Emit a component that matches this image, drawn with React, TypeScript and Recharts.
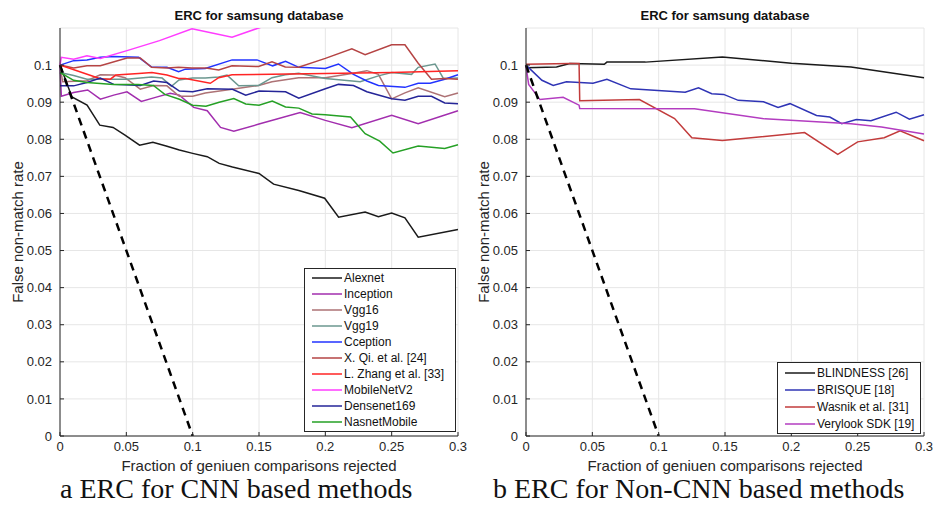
import { CartesianGrid, Label, Line, LineChart, XAxis, YAxis } from "recharts";

type Pt = [number, number];

const xTicks = [0, 0.05, 0.1, 0.15, 0.2, 0.25, 0.3];
const yTicks = [0, 0.01, 0.02, 0.03, 0.04, 0.05, 0.06, 0.07, 0.08, 0.09, 0.1];

// reference line: rejecting genuine comparisons removes errors one for one
const idealLine: Pt[] = [[0, 0.1], [0.1, 0]];

// CNN based methods
const alexnet: Pt[] = [[0, 0.1], [0.009, 0.0914], [0.0204, 0.0892], [0.03, 0.0838], [0.04, 0.0832], [0.049, 0.0811], [0.06, 0.0784], [0.07, 0.0792], [0.08, 0.0782], [0.09, 0.0771], [0.1, 0.0762], [0.111, 0.0753], [0.12, 0.0735], [0.13, 0.0725], [0.15, 0.0708], [0.161, 0.0679], [0.18, 0.0662], [0.1995, 0.0641], [0.21, 0.059], [0.23, 0.0604], [0.24, 0.0591], [0.25, 0.0601], [0.26, 0.0588], [0.27, 0.0536], [0.3, 0.0557]];
const inception: Pt[] = [[0, 0.1], [0.001, 0.0916], [0.0103, 0.0926], [0.0209, 0.0933], [0.0304, 0.0908], [0.0405, 0.0919], [0.0505, 0.0928], [0.0613, 0.0902], [0.072, 0.0913], [0.083, 0.0924], [0.09, 0.0919], [0.1008, 0.0886], [0.111, 0.0877], [0.121, 0.0832], [0.131, 0.0822], [0.15, 0.0841], [0.181, 0.0872], [0.2, 0.0851], [0.22, 0.0831], [0.25, 0.0865], [0.27, 0.0842], [0.3, 0.0877]];
const vgg16: Pt[] = [[0, 0.1], [0.002, 0.0955], [0.0203, 0.0958], [0.0304, 0.0974], [0.0405, 0.0973], [0.049, 0.0966], [0.0605, 0.0935], [0.0706, 0.0945], [0.0806, 0.0944], [0.0899, 0.0916], [0.1, 0.0916], [0.1095, 0.0925], [0.1297, 0.0935], [0.1497, 0.0945], [0.1598, 0.0955], [0.1799, 0.0966], [0.2, 0.0966], [0.221, 0.0978], [0.2313, 0.0985], [0.24, 0.0975], [0.25, 0.0909], [0.26, 0.0925], [0.27, 0.0939], [0.29, 0.0915], [0.3, 0.0925]];
const vgg19: Pt[] = [[0, 0.098], [0.0103, 0.0972], [0.0203, 0.0962], [0.05, 0.0962], [0.069, 0.0968], [0.077, 0.0965], [0.084, 0.0943], [0.0897, 0.096], [0.1, 0.0965], [0.1095, 0.0965], [0.1196, 0.0968], [0.1259, 0.0973], [0.1347, 0.0944], [0.1497, 0.0945], [0.1598, 0.0966], [0.1698, 0.0974], [0.1799, 0.0978], [0.2, 0.0964], [0.2263, 0.0955], [0.24, 0.0971], [0.25, 0.098], [0.265, 0.0975], [0.27, 0.0994], [0.2827, 0.1003], [0.289, 0.0964], [0.3, 0.0965]];
const cception: Pt[] = [[0, 0.1], [0.0103, 0.1012], [0.0203, 0.1014], [0.0304, 0.1021], [0.0405, 0.1023], [0.0593, 0.1021], [0.0693, 0.0994], [0.0806, 0.0994], [0.0894, 0.0982], [0.0945, 0.0989], [0.1095, 0.0991], [0.1297, 0.1014], [0.1485, 0.1014], [0.1603, 0.0998], [0.17, 0.101], [0.18, 0.0994], [0.2, 0.0991], [0.2099, 0.1003], [0.2212, 0.0975], [0.2313, 0.0957], [0.24, 0.0945], [0.26, 0.094], [0.27, 0.0951], [0.279, 0.0951], [0.29, 0.0962], [0.3, 0.0974]];
const xQi: Pt[] = [[0, 0.1], [0.0103, 0.0992], [0.0203, 0.0998], [0.0304, 0.0998], [0.0505, 0.1019], [0.0605, 0.1019], [0.069, 0.0994], [0.0806, 0.0992], [0.0894, 0.0994], [0.0994, 0.0992], [0.11, 0.0992], [0.1196, 0.0987], [0.1297, 0.0998], [0.1497, 0.0996], [0.1598, 0.1009], [0.1698, 0.0995], [0.1799, 0.0994], [0.2, 0.1018], [0.22, 0.1044], [0.23, 0.1028], [0.25, 0.1055], [0.26, 0.1055], [0.27, 0.1005], [0.28, 0.0962], [0.29, 0.0964], [0.3, 0.0962]];
const lZhang: Pt[] = [[0, 0.1], [0.0116, 0.0986], [0.0304, 0.0963], [0.038, 0.0962], [0.042, 0.0973], [0.0593, 0.0977], [0.0693, 0.098], [0.0806, 0.0973], [0.0894, 0.0964], [0.0945, 0.0964], [0.1133, 0.0951], [0.1196, 0.0966], [0.1297, 0.0974], [0.2, 0.0977], [0.25, 0.098], [0.3, 0.0985]];
const mobileNet: Pt[] = [[0, 0.1], [0.001, 0.1021], [0.0103, 0.1016], [0.0203, 0.1025], [0.0304, 0.1018], [0.0505, 0.1039], [0.075, 0.1066], [0.0995, 0.1098], [0.1297, 0.1075], [0.1497, 0.11], [0.16, 0.1112]];
const densenet: Pt[] = [[0, 0.0944], [0.0103, 0.0944], [0.0203, 0.0953], [0.0304, 0.0965], [0.0405, 0.0948], [0.0605, 0.0945], [0.0706, 0.0957], [0.0806, 0.0953], [0.09, 0.093], [0.1, 0.0928], [0.111, 0.0936], [0.13, 0.0935], [0.14, 0.0919], [0.15, 0.093], [0.17, 0.0928], [0.18, 0.0911], [0.2, 0.0936], [0.2099, 0.0948], [0.2212, 0.0945], [0.2313, 0.0928], [0.25, 0.0909], [0.26, 0.0905], [0.27, 0.0916], [0.28, 0.0916], [0.29, 0.0898], [0.3, 0.0896]];
const nasnet: Pt[] = [[0, 0.098], [0.0103, 0.0959], [0.0203, 0.0953], [0.0404, 0.0948], [0.059, 0.0948], [0.0704, 0.0945], [0.079, 0.0921], [0.09, 0.0908], [0.1, 0.0892], [0.11, 0.0889], [0.12, 0.09], [0.131, 0.091], [0.14, 0.0895], [0.15, 0.0892], [0.16, 0.0903], [0.17, 0.0887], [0.18, 0.0884], [0.19, 0.0868], [0.2, 0.0866], [0.219, 0.086], [0.23, 0.0815], [0.241, 0.0795], [0.251, 0.0763], [0.27, 0.0782], [0.29, 0.0775], [0.3, 0.0785]];

// non-CNN methods
const blindness: Pt[] = [[0, 0.0993], [0.023, 0.0995], [0.033, 0.1004], [0.059, 0.1002], [0.061, 0.1008], [0.09, 0.1008], [0.148, 0.1022], [0.2, 0.1005], [0.245, 0.0995], [0.3, 0.0966]];
const brisque: Pt[] = [[0, 0.1], [0.012, 0.0959], [0.0205, 0.0945], [0.0305, 0.0955], [0.0505, 0.0951], [0.061, 0.0962], [0.079, 0.0936], [0.12, 0.0927], [0.13, 0.0939], [0.14, 0.0923], [0.149, 0.0921], [0.16, 0.0905], [0.179, 0.0901], [0.19, 0.0886], [0.199, 0.0896], [0.219, 0.0864], [0.229, 0.086], [0.238, 0.0842], [0.249, 0.0853], [0.26, 0.085], [0.279, 0.0873], [0.289, 0.0854], [0.3, 0.0866]];
const wasnik: Pt[] = [[0, 0.1002], [0.033, 0.1004], [0.04, 0.1004], [0.0405, 0.0904], [0.0855, 0.0907], [0.112, 0.0856], [0.125, 0.0804], [0.148, 0.0797], [0.21, 0.0818], [0.235, 0.0759], [0.25, 0.0793], [0.27, 0.0804], [0.282, 0.0823], [0.3, 0.0796]];
const verylook: Pt[] = [[0, 0.0997], [0.002, 0.0948], [0.0105, 0.0907], [0.028, 0.0913], [0.04, 0.0892], [0.0405, 0.0883], [0.127, 0.0882], [0.18, 0.0855], [0.245, 0.0842], [0.268, 0.0833], [0.3, 0.0814]];

type Series = { name: string; color: string; points: Pt[] };

const cnnSeries: Series[] = [
  { name: "Alexnet", color: "#1a1a1a", points: alexnet },
  { name: "Inception", color: "#a22eae", points: inception },
  { name: "Vgg16", color: "#ad7275", points: vgg16 },
  { name: "Vgg19", color: "#6b978f", points: vgg19 },
  { name: "Cception", color: "#2233ff", points: cception },
  { name: "X. Qi. et al. [24]", color: "#b54444", points: xQi },
  { name: "L. Zhang et al. [33]", color: "#ff2424", points: lZhang },
  { name: "MobileNetV2", color: "#ff3cff", points: mobileNet },
  { name: "Densenet169", color: "#252598", points: densenet },
  { name: "NasnetMobile", color: "#25a025", points: nasnet },
];

const otherSeries: Series[] = [
  { name: "BLINDNESS [26]", color: "#1a1a1a", points: blindness },
  { name: "BRISQUE [18]", color: "#2f34b5", points: brisque },
  { name: "Wasnik et al. [31]", color: "#c23b3b", points: wasnik },
  { name: "Verylook SDK [19]", color: "#b33cc0", points: verylook },
];

const toRows = (pts: Pt[]) => pts.map(([x, y]) => ({ x, y }));

const sans = "'Liberation Sans', Arial, Helvetica, sans-serif";
const serif = "'Liberation Serif', 'Times New Roman', serif";
const axisColor = "#262626";
const tickStyle = { fontSize: 13, fill: axisColor, fontFamily: sans };
const blank = () => "";

type LegendBox = { left: number; top: number; width: number; rowHeight: number };

function LegendList({ series, box }: { series: Series[]; box: LegendBox }) {
  return (
    <div
      style={{
        position: "absolute",
        left: box.left,
        top: box.top,
        width: box.width,
        boxSizing: "border-box",
        border: `1px solid ${axisColor}`,
        background: "#fff",
        padding: "1px 0 1px 0",
        fontFamily: sans,
        fontSize: 12,
        color: "#111",
      }}
    >
      {series.map((s) => (
        <div key={s.name} style={{ display: "flex", alignItems: "center", height: box.rowHeight, whiteSpace: "nowrap" }}>
          <svg width={30} height={4} style={{ margin: "0 2px 0 7px", display: "block" }}>
            <line x1={0} y1={2} x2={30} y2={2} stroke={s.color} strokeWidth={1.5} />
          </svg>
          <span>{s.name}</span>
        </div>
      ))}
    </div>
  );
}

function ErcPanel({ left, series, box }: { left: number; series: Series[]; box: LegendBox }) {
  return (
    <div style={{ position: "absolute", left, top: 0, width: 470, height: 480 }}>
      <div
        style={{
          position: "absolute",
          left: 60,
          width: 398,
          top: 8,
          textAlign: "center",
          fontFamily: sans,
          fontWeight: "bold",
          fontSize: 13,
          color: "#111",
        }}
      >
        ERC for samsung database
      </div>
      <LineChart width={470} height={480} margin={{ top: 28, right: 12, bottom: 4, left: 0 }}>
        <CartesianGrid stroke="#e6e6e6" />
        <XAxis
          type="number"
          dataKey="x"
          domain={[0, 0.3]}
          ticks={xTicks}
          height={40}
          stroke={axisColor}
          tickSize={-4}
          tickMargin={10}
          tick={tickStyle}
        >
          <Label
            value="Fraction of geniuen comparisons rejected"
            position="insideBottom"
            offset={5}
            style={{ fontSize: 15, fill: axisColor, fontFamily: sans }}
          />
        </XAxis>
        <XAxis xAxisId="top" orientation="top" type="number" domain={[0, 0.3]} ticks={xTicks} height={0} stroke={axisColor} tickSize={-4} tickFormatter={blank} />
        <YAxis
          type="number"
          domain={[0, 0.11]}
          ticks={yTicks}
          allowDataOverflow
          width={60}
          stroke={axisColor}
          tickSize={-4}
          tickMargin={12}
          tick={tickStyle}
        >
          <Label
            value="False non-match rate"
            angle={-90}
            position="insideLeft"
            offset={18}
            style={{ fontSize: 15, fill: axisColor, fontFamily: sans, textAnchor: "middle" }}
          />
        </YAxis>
        <YAxis yAxisId="right" orientation="right" type="number" domain={[0, 0.11]} ticks={yTicks} width={0} stroke={axisColor} tickSize={-4} tickFormatter={blank} />
        {series.map((s) => (
          <Line
            key={s.name}
            data={toRows(s.points)}
            dataKey="y"
            name={s.name}
            type="linear"
            stroke={s.color}
            strokeWidth={1.5}
            dot={false}
            isAnimationActive={false}
          />
        ))}
        <Line
          data={toRows(idealLine)}
          dataKey="y"
          name="ideal"
          type="linear"
          stroke="#000"
          strokeWidth={2.5}
          strokeDasharray="8 6"
          dot={false}
          isAnimationActive={false}
        />
      </LineChart>
      <LegendList series={series} box={box} />
    </div>
  );
}

const captionStyle = {
  position: "absolute" as const,
  top: 479,
  fontFamily: serif,
  fontSize: 28,
  lineHeight: "20px",
  color: "#111",
  whiteSpace: "nowrap" as const,
};

export default function App() {
  return (
    <div style={{ position: "absolute", left: 0, top: 0, width: 936, height: 521, background: "#fff", overflow: "hidden" }}>
      <ErcPanel left={0} series={cnnSeries} box={{ left: 304, top: 268, width: 152, rowHeight: 16 }} />
      <ErcPanel left={466} series={otherSeries} box={{ left: 311, top: 362, width: 144, rowHeight: 17 }} />
      <div style={{ ...captionStyle, left: 60 }}>a ERC for CNN based methods</div>
      <div style={{ ...captionStyle, left: 493 }}>b ERC for Non-CNN based methods</div>
    </div>
  );
}
